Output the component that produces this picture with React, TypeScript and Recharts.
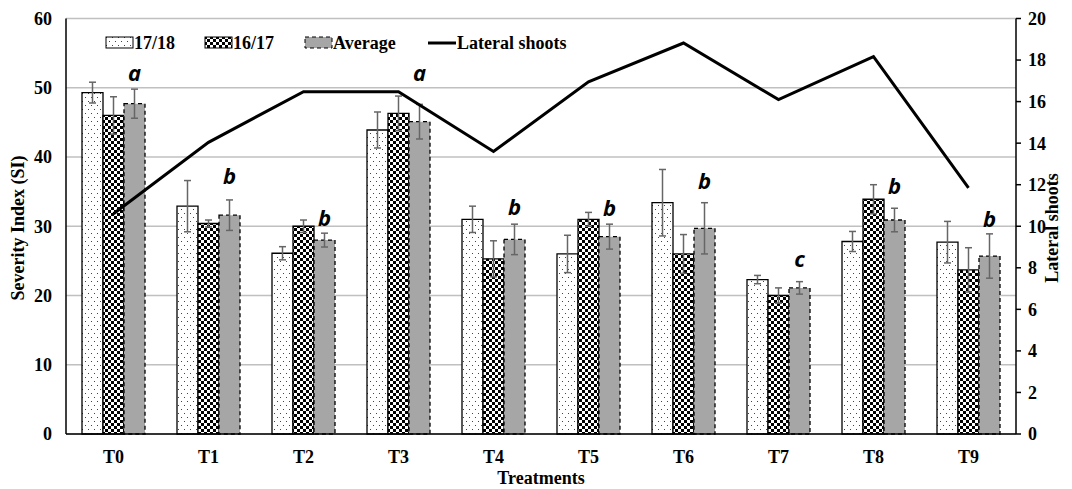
import React from 'react';
import { ComposedChart, Bar, Line, XAxis, YAxis, CartesianGrid, ErrorBar, LabelList } from 'recharts';

const categories = ['T0', 'T1', 'T2', 'T3', 'T4', 'T5', 'T6', 'T7', 'T8', 'T9'];
const s1718 = [49.3, 32.9, 26.1, 43.9, 31.0, 26.0, 33.4, 22.3, 27.8, 27.7];
const s1617 = [46.0, 30.4, 30.0, 46.3, 25.3, 31.0, 26.0, 20.0, 33.9, 23.7];
const avg = [47.7, 31.6, 28.0, 45.1, 28.1, 28.5, 29.7, 21.1, 30.9, 25.7];
const err1718 = [1.5, 3.7, 0.95, 2.6, 1.9, 2.7, 4.8, 0.6, 1.45, 3.0];
const err1617 = [2.7, 0.5, 0.9, 2.5, 2.6, 1.0, 2.8, 1.1, 2.1, 3.2];
const errAvg = [2.1, 2.2, 1.0, 2.5, 2.2, 1.8, 3.7, 0.9, 1.7, 3.2];
const lateral = [10.6, 14.04, 16.48, 16.48, 13.6, 16.95, 18.82, 16.1, 18.17, 11.85];
const letters = ['a', 'b', 'b', 'a', 'b', 'b', 'b', 'c', 'b', 'b'];
const letterBase = [51.0, 36.1, 30.0, 51.0, 31.6, 31.5, 35.4, 24.1, 34.6, 29.9];
const leftTicks = [0, 10, 20, 30, 40, 50, 60];
const rightTicks = [0, 2, 4, 6, 8, 10, 12, 14, 16, 18, 20];

const data = categories.map((name, i) => ({
  name,
  s1718: s1718[i],
  e1718: err1718[i],
  s1617: s1617[i],
  e1617: err1617[i],
  avg: avg[i],
  eAvg: errAvg[i],
  lateral: lateral[i],
  letter: letters[i],
}));

const serif = '"Liberation Serif", "Times New Roman", serif';
const tickStyle = { fontFamily: serif, fontWeight: 'bold', fontSize: 18, fill: '#000' };

function LetterLabel(props: any) {
  const { x, y, width, height, index } = props;
  const v = avg[index];
  const ppu = Number(height) / v;
  const base = Number(y) + Number(height) - letterBase[index] * ppu;
  return (
    <text
      x={Number(x) + Number(width) / 2}
      y={base}
      textAnchor="middle"
      fontFamily='"Open Sans", sans-serif'
      fontStyle="italic"
      fontWeight="bold"
      fontSize={22}
      fill="#000"
    >
      {letters[index]}
    </text>
  );
}

function Patterns({ p }: { p: string }) {
  return (
    <defs>
      <pattern id={p + 'dots'} width={6} height={8} patternUnits="userSpaceOnUse">
        <rect width={6} height={8} fill="#fff" />
        <rect x={1} y={1} width={1} height={1} fill="#444" />
        <rect x={4} y={5} width={1} height={1} fill="#444" />
      </pattern>
      <pattern id={p + 'check'} width={6} height={6} patternUnits="userSpaceOnUse">
        <rect width={6} height={6} fill="#fff" />
        <rect x={0} y={0} width={3} height={3} fill="#000" />
        <rect x={3} y={3} width={3} height={3} fill="#000" />
      </pattern>
    </defs>
  );
}

export default function App() {
  const legendText = { fontFamily: serif, fontWeight: 'bold' as const, fontSize: 18, fill: '#000' };
  return (
    <div style={{ position: 'fixed', left: 0, top: 0, width: 1072, height: 489, background: '#fff' }}>
      <ComposedChart
        width={1072}
        height={489}
        data={data}
        margin={{ top: 18.5, right: 6, bottom: 25, left: 16 }}
        barCategoryGap={16}
        barGap={0}
      >
        <Patterns p="c" />
        <CartesianGrid yAxisId="left" vertical={false} stroke="#C0C0C0" strokeWidth={1.5} />
        <XAxis
          dataKey="name"
          interval={0}
          tickLine={false}
          axisLine={{ stroke: '#000', strokeWidth: 1.5 }}
          tick={tickStyle}
          tickSize={6}
          tickMargin={10}
          height={30}
        />
        <YAxis
          yAxisId="left"
          domain={[0, 60]}
          ticks={leftTicks}
          interval={0}
          tickLine={false}
          axisLine={{ stroke: '#000', strokeWidth: 1.5 }}
          tick={tickStyle}
          tickSize={6}
          tickMargin={8}
          width={50}
        />
        <YAxis
          yAxisId="right"
          orientation="right"
          domain={[0, 20]}
          ticks={rightTicks}
          interval={0}
          tickLine={{ stroke: '#000', strokeWidth: 1.5 }}
          axisLine={{ stroke: '#000', strokeWidth: 1.5 }}
          tick={tickStyle}
          tickSize={5}
          tickMargin={7}
          width={50}
        />
        <Bar yAxisId="left" dataKey="s1718" fill="url(#cdots)" stroke="#000" strokeWidth={1.3} isAnimationActive={false}>
          <ErrorBar dataKey="e1718" width={3.5} stroke="#666" strokeWidth={1.5} direction="y" />
        </Bar>
        <Bar yAxisId="left" dataKey="s1617" fill="url(#ccheck)" stroke="#000" strokeWidth={1.3} isAnimationActive={false}>
          <ErrorBar dataKey="e1617" width={3.5} stroke="#666" strokeWidth={1.5} direction="y" />
        </Bar>
        <Bar
          yAxisId="left"
          dataKey="avg"
          fill="#A6A6A6"
          stroke="#000"
          strokeWidth={1.3}
          strokeDasharray="4 3"
          isAnimationActive={false}
        >
          <ErrorBar dataKey="eAvg" width={3.5} stroke="#666" strokeWidth={1.5} direction="y" />
          <LabelList dataKey="letter" content={<LetterLabel />} />
        </Bar>
        <Line
          yAxisId="right"
          type="linear"
          dataKey="lateral"
          stroke="#000"
          strokeWidth={3}
          dot={false}
          activeDot={false}
          isAnimationActive={false}
        />
      </ComposedChart>
      <svg
        width={1072}
        height={489}
        style={{ position: 'absolute', left: 0, top: 0, pointerEvents: 'none' }}
      >
        <Patterns p="l" />
        <rect x={106} y={37} width={27} height={11} fill="url(#ldots)" stroke="#000" strokeWidth={1} />
        <text x={134} y={49} {...legendText}>17/18</text>
        <rect x={205} y={37} width={27} height={11} fill="url(#lcheck)" stroke="#000" strokeWidth={1} />
        <text x={233} y={49} {...legendText}>16/17</text>
        <rect x={305} y={37} width={27} height={11} fill="#A6A6A6" stroke="#000" strokeWidth={1} strokeDasharray="4 3" />
        <text x={333} y={49} {...legendText}>Average</text>
        <line x1={428} x2={456} y1={43} y2={43} stroke="#000" strokeWidth={3} />
        <text x={457} y={49} {...legendText}>Lateral shoots</text>
        <text
          x={0}
          y={0}
          transform="translate(24,228) rotate(-90)"
          textAnchor="middle"
          {...legendText}
          fontSize={18}
        >
          Severity Index (SI)
        </text>
        <text
          x={0}
          y={0}
          transform="translate(1058,228) rotate(-90)"
          textAnchor="middle"
          {...legendText}
          fontSize={18}
        >
          Lateral shoots
        </text>
        <text x={541} y={484} textAnchor="middle" {...legendText}>Treatments</text>
      </svg>
    </div>
  );
}
